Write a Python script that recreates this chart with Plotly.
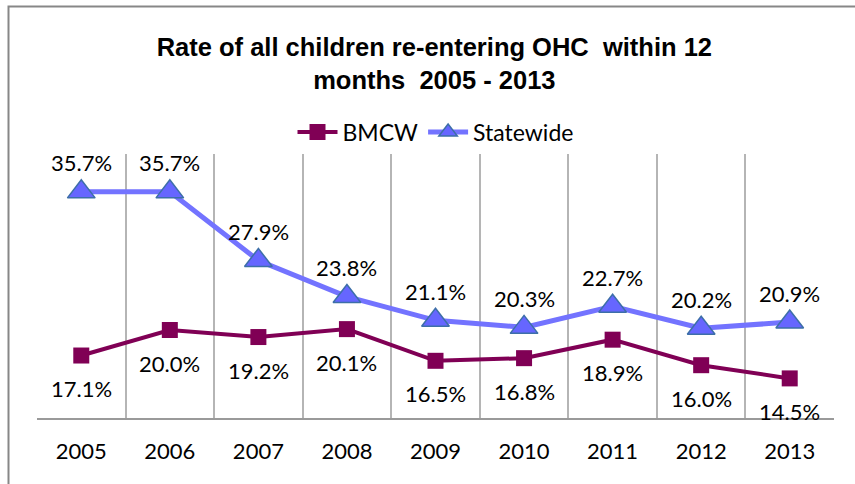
import plotly.graph_objects as go

years = ["2005", "2006", "2007", "2008", "2009", "2010", "2011", "2012", "2013"]
bmcw = [17.1, 20.0, 19.2, 20.1, 16.5, 16.8, 18.9, 16.0, 14.5]
statewide = [35.7, 35.7, 27.9, 23.8, 21.1, 20.3, 22.7, 20.2, 20.9]
title_text = "Rate of all children re-entering OHC \u00a0within 12<br>months \u00a02005 - 2013"

BMCW_COLOR = "#800055"
STATE_COLOR = "#7373FF"
BODY_FONT = "Lato, 'Open Sans', sans-serif"
LABEL_FONT = dict(family=BODY_FONT, size=22, color="#000000")

xpos = list(range(len(years)))

fig = go.Figure()
fig.add_trace(go.Scatter(
    x=xpos, y=bmcw, name="BMCW", mode="lines+markers",
    line=dict(color=BMCW_COLOR, width=4),
    marker=dict(symbol="square", size=16, color=BMCW_COLOR),
))
fig.add_trace(go.Scatter(
    x=xpos, y=statewide, name="Statewide", mode="lines+markers",
    line=dict(color=STATE_COLOR, width=5),
    marker=dict(symbol="triangle-up", size=24, color="#6666FF",
                line=dict(color="#3D6FA8", width=1.5)),
))

# value labels: statewide above its points, BMCW below
annotations = []
for x, v in zip(xpos, statewide):
    annotations.append(dict(x=x, y=v, xref="x", yref="y", text=f"{v:.1f}%",
                            showarrow=False, yshift=29, font=LABEL_FONT))
for x, v in zip(xpos, bmcw):
    annotations.append(dict(x=x, y=v, xref="x", yref="y", text=f"{v:.1f}%",
                            showarrow=False, yshift=-33, font=LABEL_FONT))

fig.update_layout(
    width=855, height=484,
    margin=dict(l=37, r=21, t=154, b=66),
    paper_bgcolor="white", plot_bgcolor="white",
    title=dict(
        text=title_text,
        x=0.508, xanchor="center", y=1 - 56 / 484, yanchor="middle", yref="container",
        font=dict(family="'Liberation Sans', Arial, sans-serif", size=25.5, color="#000000",
                  weight="bold"),
    ),
    legend=dict(
        orientation="h", x=0.5, xanchor="center", y=1.083, yanchor="middle",
        font=dict(family=BODY_FONT, size=23, color="#000000"),
        itemwidth=40, tracegroupgap=0, bgcolor="rgba(0,0,0,0)",
    ),
    showlegend=True,
    annotations=annotations,
    shapes=[dict(type="rect", xref="paper", yref="paper",
                 x0=(8.5 - 37) / 797, x1=1.2, y0=-0.5, y1=(418 - 6.5) / 264,
                 line=dict(color="#878787", width=2), layer="below")],
)

fig.update_xaxes(
    range=[-0.5, len(years) - 0.5],
    tickmode="array", tickvals=xpos, ticktext=years,
    tickfont=dict(family=BODY_FONT, size=22, color="#000000"),
    ticks="", ticklabelstandoff=13,
    showgrid=False, zeroline=False,
    showline=True, linecolor="#9A9A9A", linewidth=2,
    minor=dict(tickmode="array", tickvals=[i - 0.5 for i in range(len(years) + 1)],
               showgrid=True, gridcolor="#B5B5B5", gridwidth=1.5, ticks=""),
)
fig.update_yaxes(range=[10, 40], visible=False, showgrid=False, zeroline=False)

fig.write_html("out.html")
